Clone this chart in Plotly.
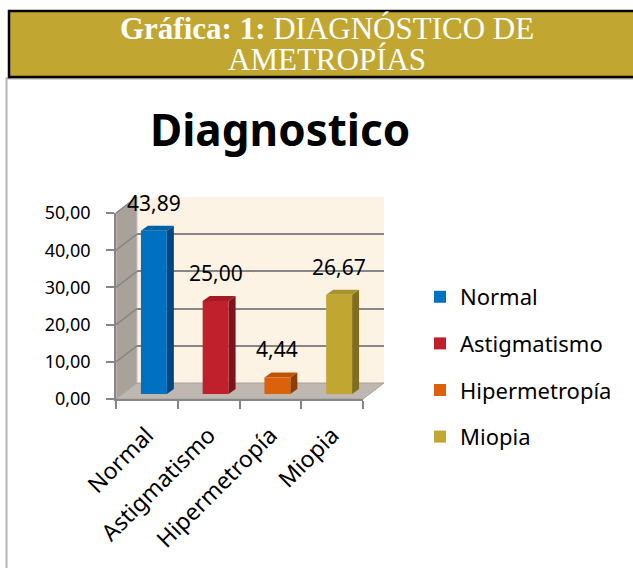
import plotly.graph_objects as go

# ---- data ----
categories = ["Normal", "Astigmatismo", "Hipermetropía", "Miopia"]
values = [43.89, 25.00, 4.44, 26.67]
front_colors = ["#0070C0", "#C0202B", "#DB620A", "#C1A732"]
side_colors = ["#00467C", "#7E141B", "#8C3E05", "#7F6E1F"]
top_colors = ["#0060A8", "#A51B24", "#BF5408", "#A8922B"]
y_ticks = [0, 10, 20, 30, 40, 50]
chart_title = "Diagnostico"
header_line1 = "<b>Gráfica: 1:</b> DIAGNÓSTICO DE"
header_line2 = "AMETROPÍAS"

W, H = 633, 568
def fx(px):
    return px / W
def fy(py):
    return 1 - py / H

# layout geometry (pixels)
L, R = 116, 363          # front plane x extent
Y0, Y50 = 399, 213       # front plane y of 0 and 50
DX, DY = 21, 16          # full depth offset
BDX, BDY = 7, 5          # bar front plane offset (depth 1/3)
BAR_W = 0.42
YMAX = 50
unit_x = (R - L) / 4.0
unit_y = (Y0 - Y50) / YMAX

fig = go.Figure()

# back wall subplot (x, y) - gridlines
fig.add_trace(go.Scatter(x=[0], y=[0], mode="markers", marker=dict(opacity=0),
                         showlegend=False, hoverinfo="skip", xaxis="x", yaxis="y"))

# bars subplot (x2, y2)
for i, (c, v) in enumerate(zip(categories, values)):
    fig.add_trace(go.Bar(x=[i], y=[v], name=c, width=BAR_W,
                         marker=dict(color=front_colors[i], line=dict(width=0)),
                         xaxis="x2", yaxis="y2", legendgroup=c, hoverinfo="skip"))

# front subplot (x3, y3) - axes/labels
fig.add_trace(go.Scatter(x=categories, y=values, mode="markers", marker=dict(opacity=0),
                         showlegend=False, hoverinfo="skip", xaxis="x3", yaxis="y3"))

shapes = []
# frame around chart
shapes.append(dict(type="rect", xref="paper", yref="paper", x0=fx(6.5), x1=fx(700),
                   y0=fy(640), y1=fy(78.5), line=dict(color="#B3B3B3", width=2),
                   fillcolor="white", layer="below"))
# header band
shapes.append(dict(type="rect", xref="paper", yref="paper", x0=fx(9), x1=fx(700),
                   y0=fy(77), y1=fy(11), line=dict(color="black", width=2.5),
                   fillcolor="#C1A732", layer="below"))
# back wall
shapes.append(dict(type="rect", xref="paper", yref="paper", x0=fx(L + DX), x1=fx(R + DX),
                   y0=fy(Y0 - DY), y1=fy(Y50 - DY), line=dict(width=0),
                   fillcolor="#FDF3E4", layer="below"))
# left wall
shapes.append(dict(type="path", xref="paper", yref="paper",
                   path=f"M{fx(L)},{fy(Y0)} L{fx(L)},{fy(Y50)} L{fx(L+DX)},{fy(Y50-DY)} L{fx(L+DX)},{fy(Y0-DY)} Z",
                   line=dict(color="#C8C3BD", width=1), fillcolor="#A9A29B", layer="below"))
# floor
shapes.append(dict(type="path", xref="paper", yref="paper",
                   path=f"M{fx(L)},{fy(Y0)} L{fx(R)},{fy(Y0)} L{fx(R+DX)},{fy(Y0-DY)} L{fx(L+DX)},{fy(Y0-DY)} Z",
                   line=dict(color="#A6A09A", width=1), fillcolor="#BEB8B1", layer="below"))
# diagonal gridlines on left wall
for t in y_ticks[1:]:
    yp = Y0 - t * unit_y
    shapes.append(dict(type="line", xref="paper", yref="paper", x0=fx(L), y0=fy(yp),
                       x1=fx(L + DX), y1=fy(yp - DY), line=dict(color="#868686", width=1.5),
                       layer="below"))

# bar side and top faces
ddx = BDX / unit_x
ddy = BDY / unit_y
hw = BAR_W / 2
for i, v in enumerate(values):
    side = f"M{i+hw},0 L{i+hw+ddx},{ddy} L{i+hw+ddx},{v+ddy} L{i+hw},{v} Z"
    top = f"M{i-hw},{v} L{i+hw},{v} L{i+hw+ddx},{v+ddy} L{i-hw+ddx},{v+ddy} Z"
    shapes.append(dict(type="path", xref="x2", yref="y2", path=side,
                       fillcolor=side_colors[i], line=dict(width=0), layer="below"))
    shapes.append(dict(type="path", xref="x2", yref="y2", path=top,
                       fillcolor=top_colors[i], line=dict(width=0), layer="below"))

annotations = []
# header text
annotations.append(dict(text=header_line1, xref="paper", yref="paper", x=fx(327), y=fy(28),
                        showarrow=False, xanchor="center", yanchor="middle",
                        font=dict(family="Liberation Serif", size=31, color="white")))
annotations.append(dict(text=header_line2, xref="paper", yref="paper", x=fx(327), y=fy(60),
                        showarrow=False, xanchor="center", yanchor="middle",
                        font=dict(family="Liberation Serif", size=31, color="white")))
# chart title
annotations.append(dict(text=f"<b>{chart_title}</b>", xref="paper", yref="paper", x=fx(280), y=fy(129),
                        showarrow=False, xanchor="center", yanchor="middle",
                        font=dict(family="Noto Sans", size=44, color="black")))
# data labels
for i, v in enumerate(values):
    annotations.append(dict(text=f"{v:.2f}".replace(".", ","), xref="x2", yref="y2", x=i, y=v,
                            showarrow=False, xanchor="center", yanchor="bottom", yshift=12,
                            font=dict(family="Noto Sans", size=21, color="black")))

hidden = dict(showgrid=False, zeroline=False, showticklabels=False, ticks="", showline=False)

fig.update_layout(
    width=W, height=H,
    margin=dict(l=0, r=0, t=0, b=0, autoexpand=False),
    paper_bgcolor="white",
    plot_bgcolor="rgba(0,0,0,0)",
    separators=",.",
    barmode="overlay",
    showlegend=True,
    legend=dict(x=fx(420), y=fy(367), xanchor="left", yanchor="middle",
                font=dict(family="Noto Sans", size=22, color="black"),
                traceorder="grouped", tracegroupgap=15, bgcolor="rgba(0,0,0,0)"),
    shapes=shapes,
    annotations=annotations,
    # back wall axes
    xaxis=dict(domain=[fx(L + DX), fx(R + DX)], range=[-0.5, 3.5], anchor="y", **hidden),
    yaxis=dict(domain=[fy(Y0 - DY), fy(Y50 - DY)], range=[0, YMAX], anchor="x",
               showgrid=True, gridcolor="#868686", gridwidth=1.5, tickvals=y_ticks,
               zeroline=False, showticklabels=False, ticks="", showline=False),
    # bars axes
    xaxis2=dict(domain=[fx(L + BDX), fx(R + BDX)], range=[-0.5, 3.5], anchor="y2", **hidden),
    yaxis2=dict(domain=[fy(Y0 - BDY), fy(Y50 - BDY)], range=[0, YMAX], anchor="x2", **hidden),
    # front axes
    xaxis3=dict(domain=[fx(L), fx(R)], type="category", categoryarray=categories,
                categoryorder="array", range=[-0.5, 3.5], anchor="y3",
                showgrid=False, zeroline=False, showline=True, linecolor="#868686", linewidth=1.5,
                ticks="outside", ticklen=8, tickcolor="#868686", tickwidth=1.5, tickson="boundaries",
                tickangle=-45, ticklabelstandoff=12,
                tickfont=dict(family="Noto Sans", size=23, color="black")),
    yaxis3=dict(domain=[fy(Y0), fy(Y50)], range=[0, YMAX], anchor="x3",
                tickvals=y_ticks, tickformat=".2f",
                showgrid=False, zeroline=False, showline=True, linecolor="#868686", linewidth=1.5,
                ticks="outside", ticklen=8, tickcolor="#868686", tickwidth=1.5,
                ticklabelstandoff=12,
                tickfont=dict(family="Noto Sans", size=18, color="black")),
)

fig.write_html("out.html", config={"displayModeBar": False},
               post_script="document.body.style.margin='0';")
